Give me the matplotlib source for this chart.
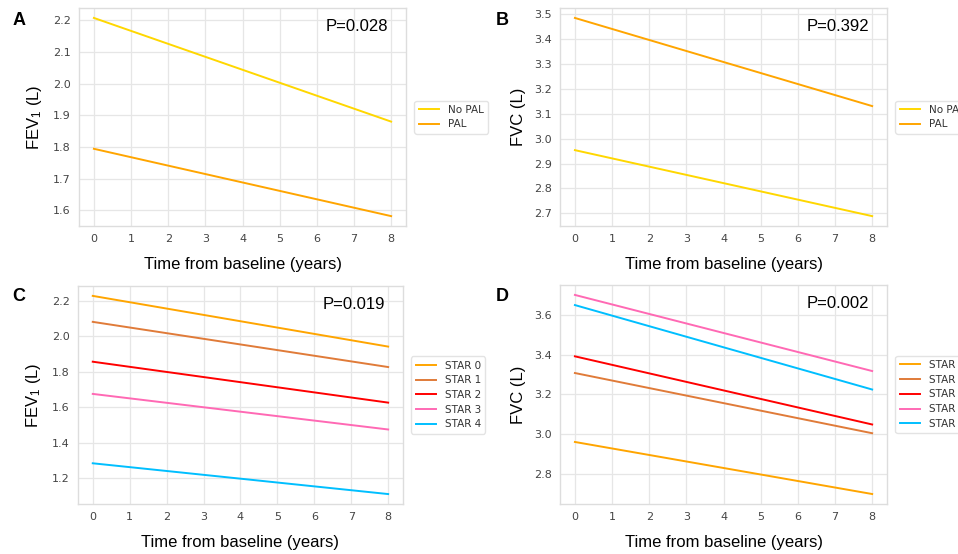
import numpy as np
import matplotlib
matplotlib.use("Agg")
import matplotlib.pyplot as plt

# years from baseline (lines drawn between the two ends)
years = [0, 8]
xticks = list(range(0, 9))

# panel A: FEV1 by PAL
fev_nopal = [2.208, 1.880]
fev_pal = [1.794, 1.581]

# panel B: FVC by PAL
fvc_nopal = [2.954, 2.689]
fvc_pal = [3.485, 3.131]

# panel C: FEV1 by STAR stage
fev_star = [
    [2.226, 1.941],
    [2.080, 1.826],
    [1.856, 1.626],
    [1.675, 1.475],
    [1.285, 1.112],
]

# panel D: FVC by STAR stage
fvc_star = [
    [2.961, 2.699],
    [3.308, 3.005],
    [3.392, 3.049],
    [3.701, 3.318],
    [3.650, 3.225],
]

pal_labels = ["No PAL", "PAL"]
pal_colors = ["#FFD700", "#FFA500"]
star_labels = ["STAR 0", "STAR 1", "STAR 2", "STAR 3", "STAR 4"]
star_colors = ["#FFA500", "#E07B39", "#FF0000", "#FF69B4", "#00BFFF"]

p_values = ["P=0.028", "P=0.392", "P=0.019", "P=0.002"]
panel_letters = ["A", "B", "C", "D"]
ylabels = ["FEV$_1$ (L)", "FVC (L)", "FEV$_1$ (L)", "FVC (L)"]

plt.rcParams['mathtext.fontset'] = 'custom'
plt.rcParams['mathtext.rm'] = 'Liberation Sans'
plt.rcParams['mathtext.it'] = 'Liberation Sans:italic'

label_font = dict(family='Liberation Sans', size=12)

fig = plt.figure(figsize=(9.58, 5.54), dpi=100)

# axes boxes in figure fractions
boxes = [
    [0.0825, 0.592, 0.3413, 0.3935],
    [0.5846, 0.592, 0.3413, 0.3935],
    [0.0814, 0.0903, 0.3392, 0.3935],
    [0.5846, 0.0903, 0.3413, 0.3953],
]

series = [
    (pal_labels, pal_colors, [fev_nopal, fev_pal]),
    (pal_labels, pal_colors, [fvc_nopal, fvc_pal]),
    (star_labels, star_colors, fev_star),
    (star_labels, star_colors, fvc_star),
]

for i, box in enumerate(boxes):
    ax = fig.add_axes(box)
    labels, colors, data = series[i]
    for lab, col, vals in zip(labels, colors, data):
        ax.plot(years, vals, color=col, lw=1.4, label=lab)

    ax.set_xticks(xticks)
    ax.grid(True, color='#e6e6e6', lw=0.9)
    ax.set_axisbelow(True)
    for s in ax.spines.values():
        s.set_color('#dddddd')
        s.set_linewidth(1.0)
    ax.tick_params(length=0, labelsize=8, labelcolor='#444444', pad=6)
    for t in ax.get_xticklabels() + ax.get_yticklabels():
        t.set_family('DejaVu Sans')

    ax.set_xlabel("Time from baseline (years)", fontdict=label_font, labelpad=9)
    ax.set_ylabel(ylabels[i], fontdict=label_font, labelpad=6)

    ax.text(0.945, 0.915, p_values[i], transform=ax.transAxes,
            ha='right', va='center', family='Liberation Sans', size=12)

    leg = ax.legend(loc='center left', bbox_to_anchor=(1.01, 0.5),
                    fontsize=7.5, frameon=True, fancybox=True,
                    handlelength=2.0, labelspacing=0.45)
    leg.get_frame().set_edgecolor('#dddddd')
    for t in leg.get_texts():
        t.set_color('#333333')

    fx = 0.013 if i % 2 == 0 else 0.518
    fy = 0.963 if i < 2 else 0.465
    fig.text(fx, fy, panel_letters[i], family='Liberation Sans',
             weight='bold', size=13, ha='left', va='center')

fig.savefig("out.png", dpi=100)
